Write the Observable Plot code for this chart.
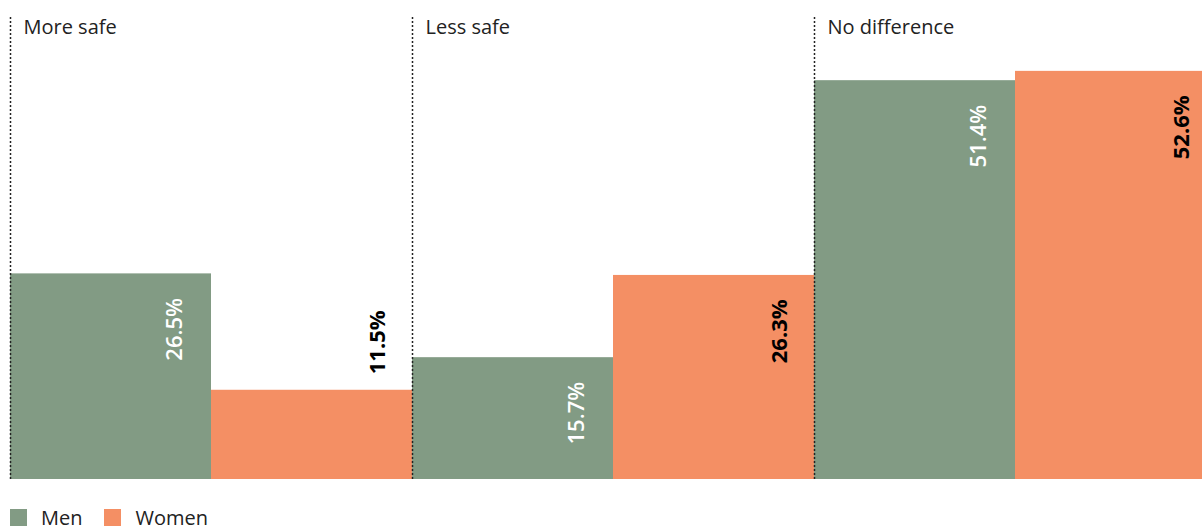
<!DOCTYPE html>
<html><head><meta charset="utf-8">
<script src="https://cdn.jsdelivr.net/npm/d3@7"></script>
<script src="https://cdn.jsdelivr.net/npm/@observablehq/plot@0.6"></script>
<style>
html,body{margin:0;padding:0;overflow:hidden;background:#fff;font-family:"Open Sans",sans-serif}
#chart{width:1216px}
.lg{display:flex;align-items:center;margin:23px 0 0 10px;font-family:"Open Sans",sans-serif;font-size:20px;color:#222;line-height:19px}
.lg span.sw{display:inline-block;width:17px;height:17px;margin-right:14px}
.lg span.t{margin-right:22px}
</style></head><body><div id="chart"></div><script>
const categories = ["More safe", "Less safe", "No difference"];
const genders = ["Men", "Women"];
const menValues = [26.5, 15.7, 51.4];
const womenValues = [11.5, 26.3, 52.6];
const colors = ["#829b84", "#f48f64"];

const data = categories.flatMap((c, i) => [
  {category: c, gender: "Men", value: menValues[i]},
  {category: c, gender: "Women", value: womenValues[i]}
]);
const fmt = d => d.value.toFixed(1) + "%";
const men = data.filter(d => d.gender === "Men");
const womenIn = data.filter(d => d.gender === "Women" && d.value >= 13);
const womenOut = data.filter(d => d.gender === "Women" && d.value < 13);

const plot = Plot.plot({
  width: 1216, height: 485,
  marginTop: 15, marginBottom: 6, marginLeft: 10, marginRight: 0,
  fx: {domain: categories, padding: 0, axis: null},
  x: {domain: genders, padding: 0, axis: null},
  y: {domain: [0, 59.8], axis: null},
  color: {domain: genders, range: colors},
  style: {fontFamily: "'Open Sans', sans-serif", background: "#fff"},
  marks: [
    Plot.barY(data, {fx: "category", x: "gender", y: "value", fill: "gender"}),
    Plot.ruleX(categories, {fx: d => d, x: () => "Men", dx: -100.5, y1: 0, y2: 59.8, stroke: "#222", strokeDasharray: "2,2", strokeWidth: 1.5}),
    Plot.text(categories, {fx: d => d, text: d => d, frameAnchor: "top-left", dx: 13, dy: 4, lineAnchor: "top", textAnchor: "start", fontSize: 20, fill: "#222"}),
    Plot.text(men, {fx: "category", x: "gender", y: "value", text: fmt, rotate: -90, textAnchor: "end", dx: 64, dy: 24, fill: "white", fontSize: 22, fontWeight: 600}),
    Plot.text(womenIn, {fx: "category", x: "gender", y: "value", text: fmt, rotate: -90, textAnchor: "end", dx: 66, dy: 24, fill: "black", fontSize: 22, fontWeight: 700}),
    Plot.text(womenOut, {fx: "category", x: "gender", y: "value", text: fmt, rotate: -90, textAnchor: "start", dx: 66, dy: -16, fill: "black", fontSize: 22, fontWeight: 700})
  ]
});
const chart = document.getElementById("chart");
chart.appendChild(plot);
const lg = document.createElement("div");
lg.className = "lg";
genders.forEach((g, i) => {
  const sw = document.createElement("span"); sw.className = "sw"; sw.style.background = colors[i];
  const t = document.createElement("span"); t.className = "t"; t.textContent = g;
  lg.appendChild(sw); lg.appendChild(t);
});
chart.appendChild(lg);
</script></body></html>
